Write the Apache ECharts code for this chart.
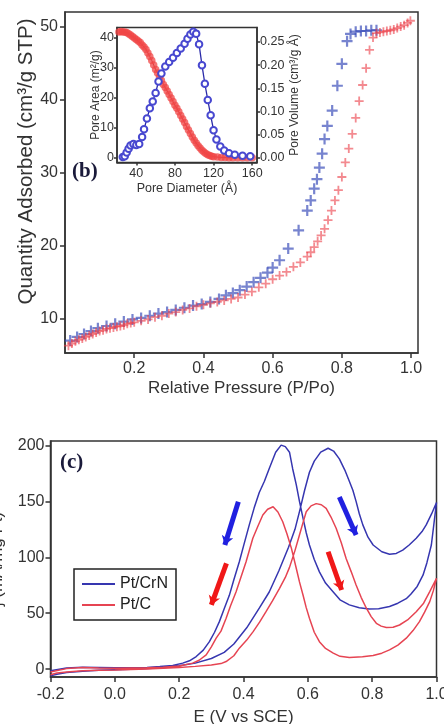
<!DOCTYPE html>
<html>
<head>
<meta charset="utf-8">
<script src="https://cdn.jsdelivr.net/npm/echarts@6/dist/echarts.min.js"></script>
<style>
html, body { margin: 0; padding: 0; background: #fff; }
#main { width: 444px; height: 724px; }
</style>
</head>
<body>
<div id="main"></div>
<script>
// ---- (b) nitrogen isotherm, [P/Po, quantity adsorbed]
const desorption = [
  [0.015, 7.0], [0.035, 7.5], [0.055, 7.9], [0.075, 8.3], [0.095, 8.7], [0.12, 9.0],
  [0.145, 9.3], [0.17, 9.6], [0.195, 9.9], [0.22, 10.1], [0.245, 10.4], [0.27, 10.7],
  [0.295, 10.9], [0.32, 11.2], [0.345, 11.5], [0.37, 11.8], [0.395, 12.0], [0.42, 12.3],
  [0.445, 12.7], [0.465, 13.2], [0.485, 13.5], [0.505, 13.9], [0.525, 14.4], [0.545, 15.0],
  [0.565, 15.6], [0.585, 16.3], [0.60, 17.0], [0.62, 18.0], [0.645, 19.6], [0.675, 22.1],
  [0.70, 24.8], [0.71, 26.2], [0.72, 27.8], [0.728, 29.1], [0.735, 30.7], [0.743, 32.6],
  [0.75, 34.6], [0.758, 36.4], [0.772, 38.5], [0.787, 41.9], [0.80, 44.9], [0.815, 48.0],
  [0.825, 49.0], [0.84, 49.3], [0.855, 49.4], [0.87, 49.4], [0.885, 49.5], [0.90, 49.5]
];
const adsorption = [
  [0.01, 6.3], [0.02, 6.6], [0.03, 6.9], [0.04, 7.1], [0.05, 7.3], [0.06, 7.5], [0.07, 7.7],
  [0.08, 7.9], [0.09, 8.1], [0.10, 8.3], [0.11, 8.4], [0.12, 8.6], [0.13, 8.7], [0.14, 8.8],
  [0.15, 8.9], [0.16, 9.0], [0.17, 9.1], [0.18, 9.3], [0.19, 9.4], [0.20, 9.5], [0.22, 9.7],
  [0.24, 9.9], [0.26, 10.2], [0.28, 10.4], [0.30, 10.7], [0.32, 10.9], [0.34, 11.2],
  [0.36, 11.4], [0.38, 11.7], [0.40, 11.9], [0.42, 12.1], [0.44, 12.3], [0.46, 12.5],
  [0.48, 12.7], [0.50, 12.9], [0.52, 13.3], [0.54, 13.7], [0.56, 14.3], [0.58, 14.8],
  [0.60, 15.4], [0.62, 15.9], [0.64, 16.4], [0.66, 17.1], [0.68, 17.7], [0.70, 18.5],
  [0.71, 19.1], [0.72, 19.8], [0.73, 20.6], [0.74, 21.4], [0.75, 22.3], [0.76, 23.5],
  [0.77, 24.8], [0.78, 26.2], [0.79, 27.6], [0.80, 29.4], [0.81, 31.4], [0.82, 33.3],
  [0.83, 35.3], [0.84, 37.5], [0.85, 39.8], [0.86, 42.0], [0.87, 44.3], [0.88, 46.8],
  [0.89, 48.5], [0.90, 49.1], [0.91, 49.2], [0.92, 49.3], [0.93, 49.4], [0.94, 49.5],
  [0.95, 49.6], [0.96, 49.8], [0.97, 50.0], [0.98, 50.2], [0.99, 50.5], [0.998, 50.8]
];
const isoTicksX = [0.2, 0.4, 0.6, 0.8, 1.0];
const isoTicksY = [10, 20, 30, 40, 50];

// ---- (b) inset: pore size distribution, [diameter (A), value]
const poreArea = [
  [22, 42], [24, 42.2], [26, 42], [28, 42], [30, 41.8], [32, 41.4], [34, 41], [36, 40.5],
  [38, 40], [40, 39.5], [42, 39], [44, 38.5], [46, 37.7], [48, 37], [50, 36.2], [52, 35],
  [54, 33.8], [56, 32.5], [58, 31], [60, 29.5], [62, 28.3], [64, 27], [66, 25.8], [68, 24.5],
  [70, 23.5], [72, 22.3], [74, 21.2], [76, 20], [78, 18.8], [80, 17.6], [82, 16.6], [84, 15.4],
  [86, 14.2], [88, 13], [90, 11.8], [92, 10.5], [94, 9.3], [96, 8.2], [98, 7], [100, 5.9],
  [102, 5], [104, 4.1], [106, 3.3], [108, 2.6], [110, 2], [112, 1.5], [114, 1.1], [116, 0.8],
  [118, 0.6], [120, 0.45], [124, 0.3], [128, 0.2], [132, 0.15], [136, 0.1], [140, 0.1],
  [145, 0.1], [150, 0.1], [155, 0.1], [160, 0.1]
];
const poreVolume = [
  [26, 0.002], [28, 0.004], [30, 0.012], [32, 0.02], [34, 0.027], [37, 0.03], [40, 0.028],
  [43, 0.03], [46, 0.045], [48, 0.062], [51, 0.085], [54, 0.107], [57, 0.122], [60, 0.14],
  [63, 0.165], [66, 0.182], [70, 0.197], [74, 0.207], [78, 0.216], [82, 0.226], [86, 0.236],
  [90, 0.246], [93, 0.257], [96, 0.266], [99, 0.272], [102, 0.268], [105, 0.245], [108, 0.2],
  [111, 0.16], [114, 0.125], [117, 0.092], [120, 0.06], [123, 0.04], [127, 0.025],
  [131, 0.016], [136, 0.01], [142, 0.007], [150, 0.005], [158, 0.004]
];
const insetTicksX = [40, 80, 120, 160];
const insetTicksArea = [0, 10, 20, 30, 40];
const insetTicksVol = [0, 0.05, 0.1, 0.15, 0.2, 0.25];

// ---- (c) cyclic voltammograms, [E (V vs SCE), current]
const crnForward = [
  [-0.2, -6], [-0.18, -4.5], [-0.15, -3], [-0.1, -1.8], [-0.05, -1], [0, -0.5], [0.05, 0],
  [0.1, 0.5], [0.15, 1.2], [0.2, 3], [0.25, 5.4], [0.3, 9.5], [0.34, 15], [0.37, 22.5],
  [0.41, 37], [0.45, 55], [0.48, 69], [0.51, 88], [0.54, 109], [0.56, 125], [0.575, 142],
  [0.59, 160], [0.605, 176], [0.62, 186], [0.64, 194], [0.663, 197.5], [0.68, 195],
  [0.698, 188], [0.715, 178], [0.729, 168], [0.74, 160], [0.75, 150], [0.76, 139],
  [0.771, 129], [0.787, 118], [0.803, 111], [0.83, 105], [0.854, 102.7], [0.875, 103.5],
  [0.895, 106.5], [0.915, 111], [0.937, 117], [0.955, 123], [0.968, 129], [0.985, 139], [1.0, 149]
];
const crnBackward = [
  [0.992, 130], [0.984, 111], [0.97, 95], [0.958, 84], [0.94, 74], [0.92, 67], [0.906, 63],
  [0.88, 59], [0.854, 56], [0.82, 54], [0.791, 53.8], [0.76, 55], [0.729, 57.5], [0.7, 62],
  [0.679, 69], [0.655, 77], [0.636, 87], [0.62, 98], [0.605, 111], [0.595, 122], [0.585, 135],
  [0.574, 150], [0.564, 165], [0.553, 179], [0.543, 194], [0.53, 199], [0.517, 200.3],
  [0.5, 194], [0.481, 180], [0.465, 168], [0.449, 158], [0.433, 144], [0.418, 129], [0.4, 110],
  [0.387, 96], [0.37, 80], [0.356, 66], [0.34, 54], [0.325, 42.5], [0.31, 33], [0.294, 24.6],
  [0.275, 17], [0.253, 11.3], [0.232, 7.5], [0.211, 5.4], [0.18, 3.2], [0.14, 2.3], [0.1, 1.6],
  [0.05, 1.3], [0, 1.2], [-0.05, 1.5], [-0.1, 1.8], [-0.15, 1], [-0.2, -1.5]
];
const cForward = [
  [-0.2, -5], [-0.18, -3.5], [-0.15, -2.5], [-0.1, -1.5], [-0.05, -1], [0, -0.8], [0.05, -0.3],
  [0.1, 0.2], [0.15, 0.8], [0.2, 1.5], [0.25, 2.5], [0.3, 3.8], [0.33, 5], [0.346, 6.8],
  [0.37, 12], [0.387, 18.8], [0.41, 26], [0.43, 33.6], [0.45, 42], [0.47, 51.4], [0.49, 61],
  [0.512, 72.3], [0.53, 82], [0.543, 91], [0.56, 106], [0.574, 120], [0.585, 131],
  [0.595, 140.7], [0.61, 146], [0.626, 148], [0.642, 147], [0.657, 143.7], [0.672, 136],
  [0.688, 126], [0.704, 113], [0.719, 99], [0.735, 87], [0.75, 75.3], [0.766, 64],
  [0.782, 54.5], [0.797, 47], [0.813, 41], [0.828, 38.5], [0.844, 37.2], [0.865, 37.5],
  [0.885, 39.5], [0.91, 44], [0.937, 51.4], [0.96, 59], [0.979, 69.3], [1.0, 81.3]
];
const cBackward = [
  [0.99, 70], [0.979, 60.4], [0.963, 51], [0.947, 42.5], [0.927, 34.5], [0.906, 27.7],
  [0.88, 21.5], [0.854, 17.2], [0.83, 14.3], [0.803, 12.2], [0.77, 11], [0.729, 10.4],
  [0.7, 11.5], [0.679, 14.3], [0.655, 18.5], [0.636, 24.6], [0.62, 33], [0.605, 45.5],
  [0.595, 55], [0.585, 66.3], [0.574, 78], [0.564, 90.2], [0.549, 108], [0.535, 121],
  [0.522, 131.8], [0.507, 140.5], [0.492, 145.2], [0.475, 143], [0.46, 137.8], [0.445, 128],
  [0.429, 117], [0.408, 96], [0.393, 83], [0.377, 69.3], [0.36, 57], [0.346, 45.5], [0.33, 34],
  [0.315, 27.7], [0.3, 20], [0.284, 12.8], [0.262, 8], [0.242, 5.4], [0.2, 2.8], [0.15, 1.8],
  [0.1, 1.2], [0.05, 1], [0, 0.8], [-0.05, 1], [-0.1, 1.5], [-0.15, 0.5], [-0.2, -2.5]
];
// scan direction arrows, [from, to]
const arrowsCrN = [[[0.384, 149.6], [0.342, 111]], [[0.698, 154], [0.75, 120]]];
const arrowsC = [[[0.347, 94.6], [0.3, 57.4]], [[0.663, 105], [0.705, 70.8]]];
const cvTicksX = [-0.2, 0, 0.2, 0.4, 0.6, 0.8, 1.0];
const cvTicksY = [0, 50, 100, 150, 200];

const FONT = 'Liberation Sans';
const AXIS_COLOR = '#333';
const PLUS = 'path://M4,0h2v4h4v2h-4v4h-2v-4h-4v-2h4z';

function axisBase(ticks, fmt, fontSize, margin, tickLen) {
  return {
    type: 'value',
    axisLine: { show: true, onZero: false, lineStyle: { color: AXIS_COLOR, width: 1.5 } },
    axisTick: { customValues: ticks, length: tickLen, lineStyle: { color: AXIS_COLOR, width: 1.5 } },
    axisLabel: { customValues: ticks, formatter: fmt, fontFamily: FONT, fontSize: fontSize, color: '#333', margin: margin },
    splitLine: { show: false },
    nameLocation: 'middle',
    nameMoveOverlap: false,
    nameTextStyle: { fontFamily: FONT, fontSize: fontSize + 1, color: '#333' }
  };
}

let chart = echarts.init(document.getElementById('main'), null, { renderer: 'canvas' });

chart.setOption({
  animation: false,
  backgroundColor: '#fff',
  grid: [
    { left: 65, top: 12, width: 353, height: 341, show: true, borderColor: AXIS_COLOR, borderWidth: 1.5, containLabel: false, outerBoundsMode: 'none' },
    { left: 117, top: 27.5, width: 140, height: 135, show: true, borderColor: AXIS_COLOR, borderWidth: 1.5, backgroundColor: '#fff', containLabel: false, outerBoundsMode: 'none' },
    { left: 50.5, top: 441, width: 386, height: 236, show: true, borderColor: AXIS_COLOR, borderWidth: 1.5, containLabel: false, outerBoundsMode: 'none' }
  ],
  xAxis: [
    Object.assign(axisBase(isoTicksX, v => v.toFixed(1), 16, 8, 5), {
      gridIndex: 0, min: 0, max: 1.02, name: 'Relative Pressure (P/Po)', nameGap: 27
    }),
    Object.assign(axisBase(insetTicksX, v => String(v), 12.5, 5, 3), {
      gridIndex: 1, min: 20, max: 165, name: 'Pore Diameter (Å)', nameGap: 20,
      nameTextStyle: { fontFamily: FONT, fontSize: 12.5, color: '#333' }
    }),
    Object.assign(axisBase(cvTicksX, v => v.toFixed(1), 16, 10, 5), {
      gridIndex: 2, min: -0.2, max: 1.0, name: 'E (V vs SCE)', nameGap: 32
    })
  ],
  yAxis: [
    Object.assign(axisBase(isoTicksY, v => String(v), 16, 7, 5), {
      gridIndex: 0, min: 5.3, max: 52, name: 'Quantity Adsorbed (cm³/g STP)', nameGap: 28,
      nameTextStyle: { fontFamily: FONT, fontSize: 20.5, color: '#333', padding: [0, 0, 0, 42] }
    }),
    Object.assign(axisBase(insetTicksArea, v => String(v), 12.5, 3, 3), {
      gridIndex: 1, min: -1.5, max: 43.5, name: 'Pore Area (m²/g)', nameGap: 15,
      nameTextStyle: { fontFamily: FONT, fontSize: 12, color: '#333' }
    }),
    Object.assign(axisBase(insetTicksVol, v => v.toFixed(2), 12.5, 3, 3), {
      gridIndex: 1, position: 'right', min: -0.0097, max: 0.2812, name: 'Pore Volume (cm³/g Å)', nameGap: 32,
      nameTextStyle: { fontFamily: FONT, fontSize: 12, color: '#333' }
    }),
    Object.assign(axisBase(cvTicksY, v => String(v), 16, 6, 5), {
      gridIndex: 2, min: -7, max: 204, name: 'j (mA/mg Pt)', nameGap: 45
    })
  ],
  legend: {
    data: [
      { name: 'Pt/CrN', icon: 'rect' },
      { name: 'Pt/C', icon: 'rect' }
    ],
    orient: 'vertical',
    left: 74, top: 569,
    padding: [7, 8, 7, 8],
    itemGap: 5,
    itemWidth: 33, itemHeight: 2,
    borderColor: '#222', borderWidth: 1.5,
    textStyle: { fontFamily: FONT, fontSize: 16, color: '#222', lineHeight: 16 }
  },
  graphic: [
    { type: 'text', left: 72, top: 161, style: { text: '(b)', font: 'bold 21px "Liberation Serif"', fill: '#1a1a3a' } },
    { type: 'text', left: 60, top: 452, style: { text: '(c)', font: 'bold 21px "Liberation Serif"', fill: '#1a1a3a' } }
  ],
  series: [
    {
      name: 'desorption', type: 'scatter', xAxisIndex: 0, yAxisIndex: 0,
      symbol: PLUS, symbolSize: 11,
      itemStyle: { color: 'rgba(55,75,185,0.85)' },
      data: desorption
    },
    {
      name: 'adsorption', type: 'scatter', xAxisIndex: 0, yAxisIndex: 0,
      symbol: PLUS, symbolSize: 9,
      itemStyle: { color: 'rgba(235,60,70,0.75)' },
      data: adsorption
    },
    {
      name: 'area', type: 'line', xAxisIndex: 1, yAxisIndex: 1,
      symbol: 'circle', symbolSize: 7.5,
      itemStyle: { color: 'rgba(240,70,70,0.75)' },
      lineStyle: { color: '#a82035', width: 1 },
      data: poreArea
    },
    {
      name: 'volume', type: 'line', xAxisIndex: 1, yAxisIndex: 2,
      symbol: 'emptyCircle', symbolSize: 6.5,
      itemStyle: { color: '#4848d0', borderWidth: 1.2 },
      lineStyle: { color: '#2a2aa8', width: 1.3 },
      data: poreVolume
    },
    {
      name: 'Pt/CrN', type: 'line', xAxisIndex: 2, yAxisIndex: 3,
      symbol: 'none', color: '#3636b0',
      lineStyle: { width: 1.5, color: '#3636b0' },
      data: crnForward.concat(crnBackward)
    },
    {
      name: 'Pt/C', type: 'line', xAxisIndex: 2, yAxisIndex: 3,
      symbol: 'none', color: '#e64452',
      lineStyle: { width: 1.5, color: '#e64452' },
      data: cForward.concat(cBackward)
    },
    {
      name: 'arrowCrN', type: 'lines', coordinateSystem: 'cartesian2d', xAxisIndex: 2, yAxisIndex: 3,
      symbol: ['none', 'arrow'], symbolSize: 9,
      lineStyle: { color: '#2020e0', width: 5, opacity: 1 },
      data: arrowsCrN.map(c => ({ coords: c }))
    },
    {
      name: 'arrowC', type: 'lines', coordinateSystem: 'cartesian2d', xAxisIndex: 2, yAxisIndex: 3,
      symbol: ['none', 'arrow'], symbolSize: 9,
      lineStyle: { color: '#f01818', width: 5, opacity: 1 },
      data: arrowsC.map(c => ({ coords: c }))
    }
  ]
});
</script>
</body>
</html>
